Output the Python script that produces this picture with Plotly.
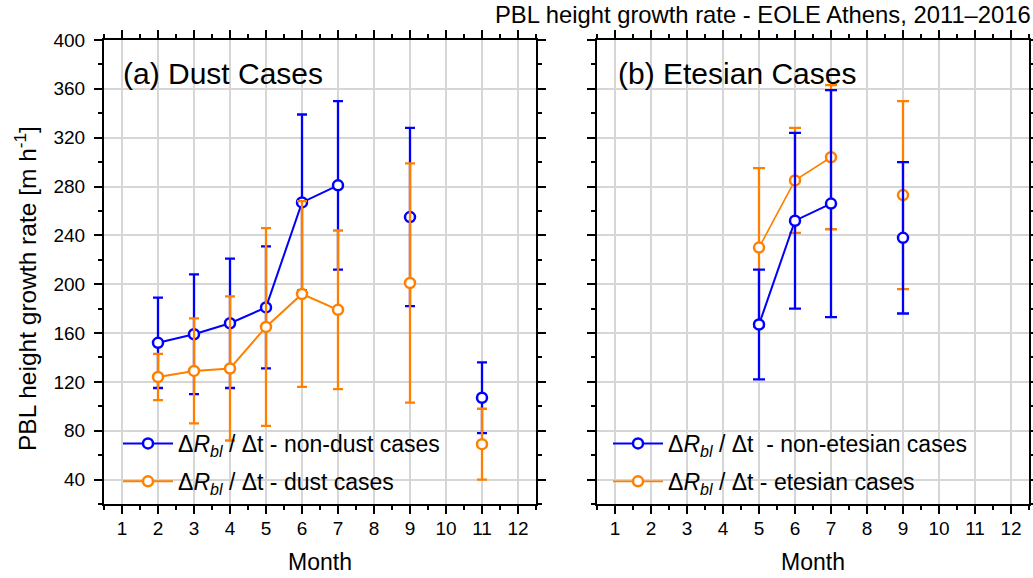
import plotly.graph_objects as go

# ---- data -------------------------------------------------------------
MONTH_TICKS = [1, 2, 3, 4, 5, 6, 7, 8, 9, 10, 11, 12]
MONTH_LABELS = ["1", "2", "3", "4", "5", "6", "7", "8", "9", "10", "11", "12"]

# (a) dust vs non-dust days (None = no data, breaks the line)
months_a = [2, 3, 4, 5, 6, 7, 8, 9, 10, 11]
nondust_rate = [152, 159, 168, 181, 267, 281, None, 255, None, 107]
nondust_err = [37, 49, 53, 50, 72, 69, None, 73, None, 29]
dust_rate = [124, 129, 131, 165, 192, 179, None, 201, None, 69]
dust_err = [19, 43, 59, 81, 76, 65, None, 98, None, 29]

# (b) etesian vs non-etesian days
months_b = [5, 6, 7, 8, 9]
nonetesian_rate = [167, 252, 266, None, 238]
nonetesian_err = [45, 72, 93, None, 62]
etesian_rate = [230, 285, 304, None, 273]
etesian_err = [65, 43, 59, None, 77]

BLUE = "#0000FF"
ORANGE = "#FF8000"
FONT = "Liberation Sans, Arial, sans-serif"
W, H = 1033, 578

RB = "Δ<i>R</i><sub><i>bl</i></sub> / Δt"


def series(x, y, err, color, name, xa, ya, legend, width=2, rank=None, cap=5):
    return go.Scatter(
        x=x, y=y, name=name, mode="lines+markers",
        xaxis=xa, yaxis=ya, legend=legend, legendgroup=name,
        legendrank=rank if rank is not None else 1000,
        connectgaps=False,
        line=dict(color=color, width=width),
        marker=dict(symbol="circle", size=10, color="white",
                    line=dict(color=color, width=2.5)),
        error_y=dict(type="data", array=err, symmetric=True, visible=True,
                     color=color, thickness=2.3, width=cap),
    )


fig = go.Figure()
fig.add_trace(series(months_a, nondust_rate, nondust_err, BLUE,
                     RB + " - non-dust cases", "x", "y", "legend", rank=1))
fig.add_trace(series(months_a, dust_rate, dust_err, ORANGE,
                     RB + " - dust cases", "x", "y", "legend", rank=2))
fig.add_trace(series(months_b, etesian_rate, etesian_err, ORANGE,
                     RB + " - etesian cases", "x2", "y2", "legend2",
                     width=1.6, rank=2, cap=6))
fig.add_trace(series(months_b, nonetesian_rate, nonetesian_err, BLUE,
                     RB + "  - non-etesian cases", "x2", "y2", "legend2",
                     rank=1, cap=6))

XDOM_A = [104 / W, 536 / W]
XDOM_B = [597 / W, 1029 / W]
YDOM = [(H - 504) / H, (H - 40) / H]
TICKFONT = dict(size=19, color="black", family=FONT)


def xaxis(dom, anchor):
    return dict(
        domain=dom, anchor=anchor, range=[0.5, 12.5],
        tickmode="array", tickvals=MONTH_TICKS, ticktext=MONTH_LABELS,
        ticks="outside", ticklen=8, tickwidth=2, tickcolor="black",
        showline=True, linewidth=2, linecolor="black", mirror="ticks",
        showgrid=True, gridcolor="#d6d6d6", gridwidth=1.5, zeroline=False,
        tickfont=TICKFONT, ticklabelstandoff=-2, automargin=False,
        minor=dict(tickmode="linear", tick0=0.5, dtick=1, ticks="outside",
                   ticklen=4, tickwidth=2, tickcolor="black", showgrid=False),
        fixedrange=True,
    )


def yaxis(dom, anchor, labels):
    return dict(
        domain=dom, anchor=anchor, range=[20, 400],
        tickmode="linear", tick0=0, dtick=40,
        ticks="outside", ticklen=8, tickwidth=2, tickcolor="black",
        showline=True, linewidth=2, linecolor="black", mirror="ticks",
        showgrid=True, gridcolor="#d6d6d6", gridwidth=1.5, zeroline=False,
        showticklabels=labels, tickfont=TICKFONT, ticklabelstandoff=5,
        automargin=False,
        minor=dict(tickmode="linear", tick0=20, dtick=40, ticks="outside",
                   ticklen=4, tickwidth=2, tickcolor="black", showgrid=False),
        fixedrange=True,
    )


def inner_x(over, anchor, dom):
    return dict(
        overlaying=over, anchor=anchor, domain=dom, range=[0.5, 12.5],
        tickmode="array", tickvals=MONTH_TICKS, ticks="inside", ticklen=9,
        tickwidth=2, tickcolor="black", showticklabels=False,
        showline=True, linewidth=2, linecolor="black", mirror="ticks",
        showgrid=False, zeroline=False, automargin=False,
        minor=dict(tickmode="linear", tick0=0.5, dtick=1, ticks="inside",
                   ticklen=5, tickwidth=2, tickcolor="black", showgrid=False),
    )


def inner_y(over, anchor, dom):
    return dict(
        overlaying=over, anchor=anchor, domain=dom, range=[20, 400],
        tickmode="linear", tick0=0, dtick=40, ticks="inside", ticklen=9,
        tickwidth=2, tickcolor="black", showticklabels=False,
        showline=True, linewidth=2, linecolor="black", mirror="ticks",
        showgrid=False, zeroline=False, automargin=False,
        minor=dict(tickmode="linear", tick0=20, dtick=40, ticks="inside",
                   ticklen=5, tickwidth=2, tickcolor="black", showgrid=False),
    )


legend_common = dict(
    xanchor="left", yanchor="top", bgcolor="rgba(0,0,0,0)",
    borderwidth=0, font=dict(size=23, color="black", family=FONT),
    itemwidth=50, tracegroupgap=5, traceorder="grouped",
)

fig.update_layout(
    width=W, height=H, autosize=False,
    margin=dict(l=0, r=0, t=0, b=0, autoexpand=False),
    paper_bgcolor="white", plot_bgcolor="white",
    font=dict(family=FONT, color="black"),
    showlegend=True,
    xaxis=xaxis(XDOM_A, "y"),
    yaxis=yaxis(YDOM, "x", True),
    xaxis2=xaxis(XDOM_B, "y2"),
    yaxis2=yaxis(YDOM, "x2", False),
    xaxis3=inner_x("x", "y", XDOM_A),
    yaxis3=inner_y("y", "x", YDOM),
    xaxis4=inner_x("x2", "y2", XDOM_B),
    yaxis4=inner_y("y2", "x2", YDOM),
    legend=dict(x=118 / W, y=1 - 422 / H, **legend_common),
    legend2=dict(x=608 / W, y=1 - 422 / H, **legend_common),
    annotations=[
        dict(text="PBL height growth rate - EOLE Athens, 2011–2016",
             xref="paper", yref="paper", x=1, y=1 - 15 / H,
             xanchor="right", yanchor="middle", showarrow=False,
             font=dict(size=23.8, family=FONT, color="black")),
        dict(text="(a) Dust Cases", xref="paper", yref="paper",
             x=121 / W, y=1 - 74 / H, xanchor="left", yanchor="middle",
             showarrow=False, font=dict(size=30, family=FONT, color="black")),
        dict(text="(b) Etesian Cases", xref="paper", yref="paper",
             x=616 / W, y=1 - 73 / H, xanchor="left", yanchor="middle",
             showarrow=False, font=dict(size=30, family=FONT, color="black")),
        dict(text="PBL height growth rate [m h<sup>-1</sup>]",
             xref="paper", yref="paper", x=25 / W, y=1 - 289 / H,
             xanchor="center", yanchor="middle", textangle=-90,
             showarrow=False, font=dict(size=24.5, family=FONT, color="black")),
        dict(text="Month", xref="paper", yref="paper", x=320 / W,
             y=1 - 562 / H, xanchor="center", yanchor="middle",
             showarrow=False, font=dict(size=23, family=FONT, color="black")),
        dict(text="Month", xref="paper", yref="paper", x=813 / W,
             y=1 - 562 / H, xanchor="center", yanchor="middle",
             showarrow=False, font=dict(size=23, family=FONT, color="black")),
    ],
)

fig.write_html("out.html")
